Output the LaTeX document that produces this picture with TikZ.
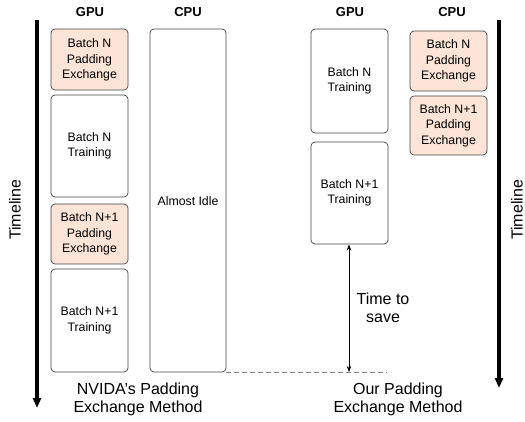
\documentclass[tikz,border=0pt]{standalone}
\usepackage{fontspec}
\setmainfont{Liberation Sans}
\usetikzlibrary{arrows.meta}
\definecolor{peach}{HTML}{FCE4D6}
\definecolor{edge}{HTML}{444444}
\tikzset{
  blk/.style={draw=edge, line width=0.7pt, rounded corners=4pt, fill=white},
  pad/.style={blk, fill=peach},
  lbl/.style={font=\fontsize{12.3}{15.5}\selectfont, align=center},
  hdr/.style={font=\fontsize{13}{15}\bfseries\selectfont},
  captxt/.style={font=\fontsize{16}{18}\selectfont, align=center},
  tl/.style={line width=3.5pt, -{Triangle[length=10pt,width=8pt]}},
}
\begin{document}
\begin{tikzpicture}[x=1pt,y=-1pt]
\useasboundingbox (0,0) rectangle (525,422);
% headers
\node[hdr] (g1) at (90,12) {GPU};
\node[hdr] (c1) at (188,12) {CPU};
\node[hdr] (g2) at (350,12) {GPU};
\node[hdr] (c2) at (452,12) {CPU};
% left side
\draw[pad] (51,29) rectangle (128,90);
\node[lbl] (b1) at (89.5,60) {Batch N\\Padding\\Exchange};
\draw[blk] (51,95) rectangle (128,197);
\node[lbl] (b2) at (89.5,146) {Batch N\\Training};
\draw[pad] (51,204) rectangle (128,264);
\node[lbl] (b3) at (89.5,234) {Batch N+1\\Padding\\Exchange};
\draw[blk] (51,269) rectangle (128,372);
\node[lbl] (b4) at (89.5,320.5) {Batch N+1\\Training};
\draw[blk] (150,29) rectangle (226,372);
\node[lbl] (idle) at (188,201) {Almost Idle};
% right side
\draw[blk] (311,29) rectangle (388,133);
\node[lbl] (r1) at (349.5,81) {Batch N\\Training};
\draw[blk] (311,142) rectangle (388,244);
\node[lbl] (r2) at (349.5,193) {Batch N+1\\Training};
\draw[pad] (410,31) rectangle (487,91);
\node[lbl] (r3) at (448.5,61) {Batch N\\Padding\\Exchange};
\draw[pad] (410,96) rectangle (487,155);
\node[lbl] (r4) at (448.5,125.5) {Batch N+1\\Padding\\Exchange};
% timelines
\coordinate (t1s) at (37,20);
\coordinate (t1e) at (37,408);
\draw[tl] (t1s) -- (t1e);
\node[captxt, rotate=90] (tl1) at (15,210) {Timeline};
\coordinate (t2s) at (499,20);
\coordinate (t2e) at (499,388);
\draw[tl] (t2s) -- (t2e);
\node[captxt, rotate=90] (tl2) at (517,210) {Timeline};
% dashed line and time to save
\coordinate (d1) at (226,372);
\coordinate (d2) at (387,372);
\draw[draw=gray, line width=0.7pt, dash pattern=on 5pt off 3pt] (d1) -- (d2);
\coordinate (a1) at (349,244.5);
\coordinate (a2) at (349,372);
\draw[line width=0.6pt, {Stealth[length=6pt,width=4.5pt]}-{Stealth[length=6pt,width=4.5pt]}] (a1) -- (a2);
\node[captxt] (save) at (383,308) {Time to\\save};
% captions
\node[captxt] (cl) at (138,399) {NVIDA’s Padding\\Exchange Method};
\node[captxt] (cr) at (398,399) {Our Padding\\Exchange Method};
\end{tikzpicture}
\end{document}
